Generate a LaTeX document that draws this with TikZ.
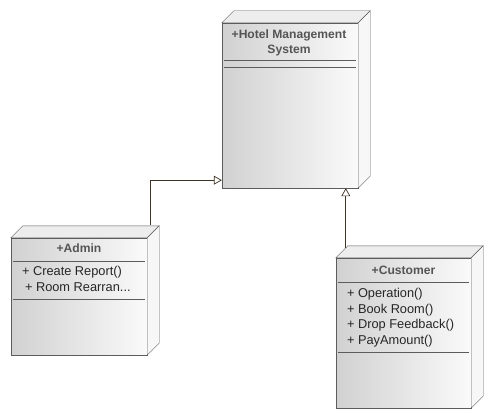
\documentclass[tikz,border=0pt]{standalone}
\usepackage{fontspec}
\setmainfont{Liberation Sans}
\usepackage{tikz}
\usetikzlibrary{positioning,calc,arrows.meta}
\definecolor{edgegray}{HTML}{5C5C5C}
\definecolor{titlegray}{HTML}{555555}
\definecolor{linkbrown}{HTML}{3F3324}

\begin{document}
\begin{tikzpicture}[x=1pt,y=-1pt,
    font=\fontsize{12.8}{15.6}\selectfont,
    classbox/.style={draw=edgegray,left color=black!18,right color=black!2,minimum width=136pt,inner sep=0pt},
    topface/.style={draw=edgegray,fill=black!7},
    sideface/.style={draw=edgegray,fill=black!3},
    classname/.style={text=titlegray,font=\fontsize{12.1}{15}\selectfont\bfseries,align=center,anchor=base,inner sep=0pt},
    classops/.style={text=black!85,align=left,anchor=base west,inner sep=0pt},
    divider/.style={draw=edgegray},
    realize/.style={draw=linkbrown,line width=0.7pt,-{Triangle[open,length=8pt,width=9pt,fill=white]}}]
    \useasboundingbox (0,0) rectangle (495,420);

    \node[classbox,minimum height=165pt] (hotel) at (290,105.5) {};
    \node[classbox,minimum height=117pt] (admin) at (79,296.5) {};
    \node[classbox,minimum width=135pt,minimum height=150pt] (customer) at (403.5,333) {};

    \foreach \n in {hotel,admin,customer} {
        \draw[topface] (\n.north west) -- ($(\n.north west)+(12,-12)$) -- ($(\n.north east)+(12,-12)$) -- (\n.north east) -- cycle;
        \draw[sideface] (\n.north east) -- ($(\n.north east)+(12,-12)$) -- ($(\n.south east)+(12,-12)$) -- (\n.south east) -- cycle;
    }

    % hotel management system
    \node[classname] (hoteltitle) at ($(hotel.north)+(-1,30.3)$) {+Hotel Management\\System};
    \draw[divider] ($(hotel.north west)+(2,37)$) -- ($(hotel.north east)+(-2,37)$);
    \draw[divider] ($(hotel.north west)+(2,44)$) -- ($(hotel.north east)+(-2,44)$);

    % admin
    \node[classname] (admintitle) at ($(admin.north)+(0,15)$) {+Admin};
    \draw[divider] ($(admin.north west)+(2,23)$) -- ($(admin.north east)+(-2,23)$);
    \node[classops] (adminops) at ($(admin.north west)+(11,53.6)$) {+ Create Report()\\\hspace{3pt}+ Room Rearran...};
    \draw[divider] ($(admin.north west)+(2,61)$) -- ($(admin.north east)+(-2,61)$);

    % customer
    \node[classname] (customertitle) at ($(customer.north)+(0,16.5)$) {+Customer};
    \draw[divider] ($(customer.north west)+(2,24)$) -- ($(customer.north east)+(-2,24)$);
    \node[classops] (customerops) at ($(customer.north west)+(11,86.5)$) {+ Operation()\\+ Book Room()\\+ Drop Feedback()\\+ PayAmount()};
    \draw[divider] ($(customer.north west)+(2,94)$) -- ($(customer.north east)+(-2,94)$);

    % generalizations
    \coordinate (admintop) at ($(admin.north west)+(140,-13)$);
    \coordinate (hotelport) at ($(hotel.south west)+(0,-8)$);
    \coordinate (customertop) at ($(customer.north west)+(10,-10)$);
    \draw[realize] (admintop) |- (hotelport);
    \draw[realize] (customertop) -- (customertop |- hotel.south);
\end{tikzpicture}
\end{document}
